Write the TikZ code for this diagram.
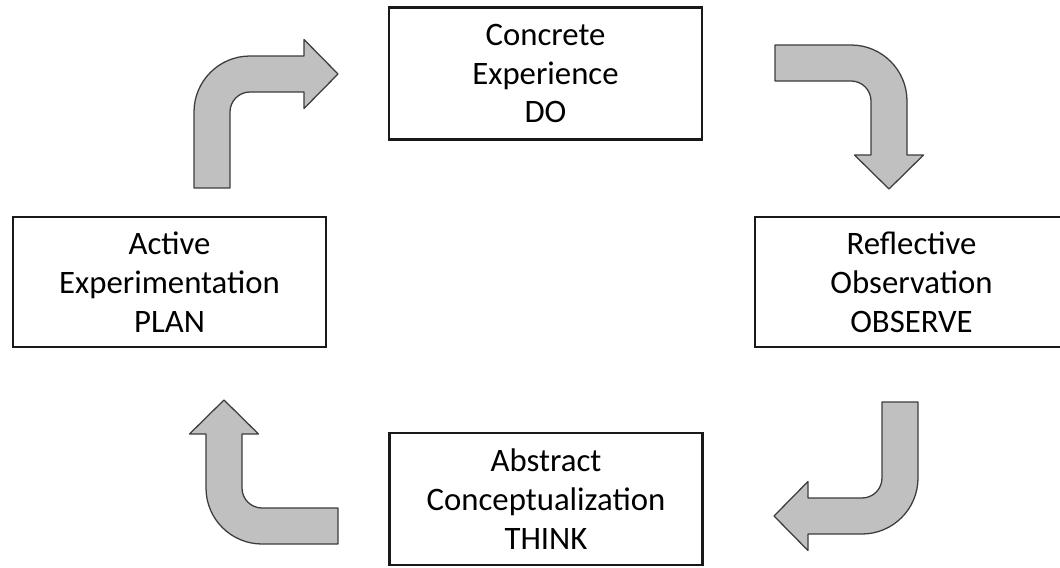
\documentclass[tikz,border=0pt]{standalone}
\usepackage{fontspec}
\setmainfont{Carlito}
\definecolor{arrowfill}{RGB}{192,192,192}
\definecolor{arrowline}{RGB}{60,60,60}
\tikzset{%
  stagebox/.style={draw=black!90,line width=1.6pt,fill=white,
    minimum width=7.825cm,minimum height=3.3cm,inner sep=0pt,align=center,
    font=\fontsize{23.3}{27.6}\selectfont},
  arrowshape/.style={draw=arrowline,fill=arrowfill,line width=0.9pt,
    line join=round},
  % bent block arrow: goes up, then turns right; origin at the outer corner
  pics/bent arrow/.style={code={%
      \draw[arrowshape] (0,-132) -- (0,-56)
        arc[start angle=180,end angle=90,radius=56]
        -- (110,0) -- (110,16.5) -- (144,-18) -- (110,-52.5) -- (110,-36)
        -- (56,-36)
        arc[start angle=90,end angle=180,radius=20]
        -- (36,-132) -- cycle;
    }},
}
\begin{document}
\begin{tikzpicture}[x=0.025cm,y=0.025cm]
  \useasboundingbox (0,0) rectangle (1060,-567);
  % the four stages
  \node[stagebox] (do)      at (545.5,-73.5) {Concrete\\Experience\\DO};
  \node[stagebox,minimum height=3.25cm] (observe) at (911.5,-282)
    {Reflective\\Observation\\OBSERVE};
  \node[stagebox] (think)   at (546,-499)    {Abstract\\Conceptualization\\THINK};
  \node[stagebox,minimum height=3.25cm] (plan) at (169.5,-282)
    {Active\\Experimentation\\PLAN};
  % the four turning arrows
  \pic at (194,-56)              {bent arrow};
  \pic[rotate=-90] at (907,-45)  {bent arrow};
  \pic[rotate=180] at (918,-534) {bent arrow};
  \pic[rotate=90]  at (206,-544) {bent arrow};
\end{tikzpicture}
\end{document}
